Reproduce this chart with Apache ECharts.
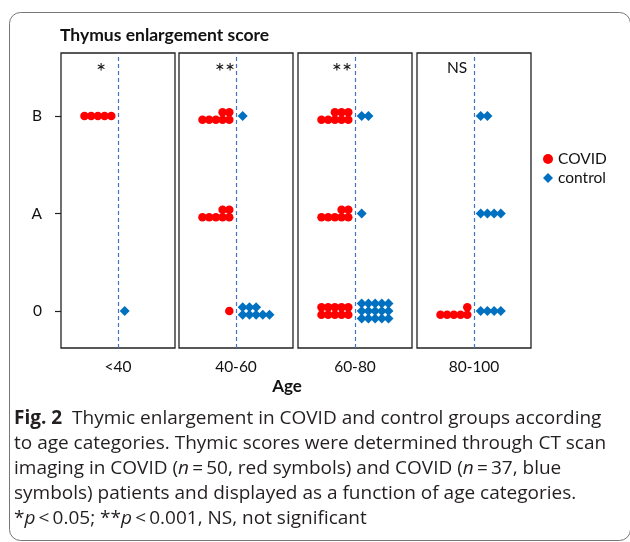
<!DOCTYPE html>
<html>
<head>
<meta charset="utf-8">
<script src="https://cdn.jsdelivr.net/npm/echarts@6/dist/echarts.min.js"></script>
<style>
	html, body { margin: 0; padding: 0; background: #fff; }
	#main { width: 630px; height: 542px; }
</style>
</head>
<body>
<div id="main"></div>
<script>
	// age groups (one panel each) and score categories on the y axis
	var ages = [ '<40', '40-60', '60-80', '80-100' ];
	var scoreLabels = [ '0', 'A', 'B' ];
	var sigLabels = [ '*', '**', '**', 'NS' ];
	// number of patients per age group, for score 0, A, B
	var covidCounts = [ [ 0, 0, 5 ], [ 1, 7, 7 ], [ 10, 7, 8 ], [ 6, 0, 0 ] ];
	var controlCounts = [ [ 1, 0, 0 ], [ 8, 0, 1 ], [ 15, 1, 2 ], [ 4, 4, 2 ] ];

	var panelLeft = [ 61, 179, 298, 417 ];
	var sigX = [ 101, 225, 342, 457 ];
	var panelTop = 53;
	var panelW = 114;
	var panelH = 295;
	var rowGap = 0.077; // in score units
	var perRow = 5;
	var chartFont = 'Lato';

	// stack the dots of one group: bottom row first, covid to the left, control to the right
	function stackDots(counts, side) {
		var pts = [];
		for (var s = 0; s < counts.length; s++) {
			var n = counts[s];
			var rows = Math.ceil(n / perRow);
			for (var k = 0; k < n; k++) {
				var row = Math.floor(k / perRow);
				var col = k % perRow;
				pts.push([ side * (col + 1), s + (row - (rows - 1) / 2) * rowGap ]);
			}
		}
		return pts;
	}

	var grids = [], xAxes = [], yAxes = [], series = [], graphics = [];
	for (var i = 0; i < ages.length; i++) {
		grids.push({
			left : panelLeft[i],
			top : panelTop,
			width : panelW,
			height : panelH,
			show : true,
			borderColor : '#222',
			borderWidth : 1.3,
			backgroundColor : 'transparent'
		});
		xAxes.push({
			type : 'value',
			gridIndex : i,
			min : -8.5,
			max : 8.5,
			splitLine : { show : false },
			axisLine : { show : false, onZero : false },
			axisTick : { show : false },
			axisLabel : {
				customValues : [ 0 ],
				margin : 11,
				fontFamily : chartFont,
				fontSize : 15.5,
				color : '#111',
				formatter : (function(label) {
					return function() {
						return label;
					};
				})(ages[i])
			}
		});
		yAxes.push({
			type : 'value',
			gridIndex : i,
			min : -0.379,
			max : 2.646,
			splitLine : { show : false },
			axisLine : { show : false, onZero : false },
			axisTick : {
				show : i === 0,
				customValues : [ 0, 1, 2 ],
				length : 6,
				lineStyle : { color : '#222', width : 1.2 }
			},
			axisLabel : {
				show : i === 0,
				customValues : [ 0, 1, 2 ],
				margin : 19,
				fontFamily : chartFont,
				fontSize : 15.5,
				color : '#111',
				formatter : function(v) {
					return scoreLabels[Math.round(v)];
				}
			}
		});
		series.push({
			name : 'COVID',
			type : 'scatter',
			xAxisIndex : i,
			yAxisIndex : i,
			symbol : 'circle',
			symbolSize : 8.5,
			itemStyle : { color : '#FF0000', opacity : 1 },
			data : stackDots(covidCounts[i], -1),
			z : 3,
			markLine : {
				silent : true,
				symbol : 'none',
				label : { show : false },
				lineStyle : { color : '#4472C4', type : [ 4, 3 ], width : 1.2 },
				data : [ { xAxis : 0 } ]
			}
		});
		series.push({
			name : 'control',
			type : 'scatter',
			xAxisIndex : i,
			yAxisIndex : i,
			symbol : 'diamond',
			symbolSize : 10,
			itemStyle : { color : '#0070C0', opacity : 1 },
			data : stackDots(controlCounts[i], 1),
			z : 3
		});
		graphics.push({
			type : 'text',
			x : sigX[i],
			y : sigLabels[i] === 'NS' ? 68 : 72,
			style : {
				text : sigLabels[i],
				fontFamily : chartFont,
				fontSize : sigLabels[i] === 'NS' ? 15.5 : 24,
				fill : '#111',
				align : 'center',
				verticalAlign : 'middle'
			}
		});
	}

	// outer frame of the figure
	graphics.push({
		type : 'rect',
		shape : { x : 9.5, y : 12.5, width : 621, height : 528, r : 11 },
		style : { fill : 'none', stroke : '#777', lineWidth : 1 },
		z : -1
	});
	graphics.push({
		type : 'text',
		x : 287,
		y : 387,
		style : {
			text : 'Age',
			fontFamily : chartFont,
			fontWeight : 'bold',
			fontSize : 17,
			fill : '#111',
			align : 'center',
			verticalAlign : 'middle'
		}
	});

	var capFont = 'Open Sans';
	var capSize = 19;
	var capLines = [
		'{b|Fig. 2}  Thymic enlargement in COVID and control groups according',
		'to age categories. Thymic scores were determined through CT scan',
		'imaging in COVID ({i|n}\u2009=\u200950, red symbols) and COVID ({i|n}\u2009=\u200937, blue',
		'symbols) patients and displayed as a function of age categories.',
		'*{i|p}\u2009<\u20090.05; **{i|p}\u2009<\u20090.001, NS, not significant'
	];
	for (var j = 0; j < capLines.length; j++) {
		graphics.push({
			type : 'text',
			x : 14,
			y : 419 + j * 25,
			style : {
				text : capLines[j],
				fontFamily : capFont,
				fontSize : capSize,
				fill : '#231f20',
				verticalAlign : 'middle',
				rich : {
					b : { fontFamily : capFont, fontSize : capSize, fontWeight : 'bold', fill : '#231f20' },
					i : { fontFamily : capFont, fontSize : capSize, fontStyle : 'italic', fill : '#231f20' }
				}
			}
		});
	}

	var option = {
		backgroundColor : '#FFFFFF',
		animation : false,
		title : {
			text : 'Thymus enlargement score',
			left : 55,
			top : 21,
			textStyle : { fontFamily : chartFont, fontWeight : 'bold', fontSize : 17.5, color : '#111' }
		},
		legend : {
			orient : 'vertical',
			left : 538,
			top : 146,
			itemWidth : 10,
			itemHeight : 10,
			itemGap : 3,
			textStyle : { fontFamily : chartFont, fontSize : 15.5, color : '#111' },
			data : [ { name : 'COVID', icon : 'circle' }, { name : 'control', icon : 'diamond' } ]
		},
		grid : grids,
		xAxis : xAxes,
		yAxis : yAxes,
		series : series,
		graphic : graphics
	};

	var mychart = echarts.init(document.getElementById('main'));
	mychart.setOption(option);
</script>
</body>
</html>
